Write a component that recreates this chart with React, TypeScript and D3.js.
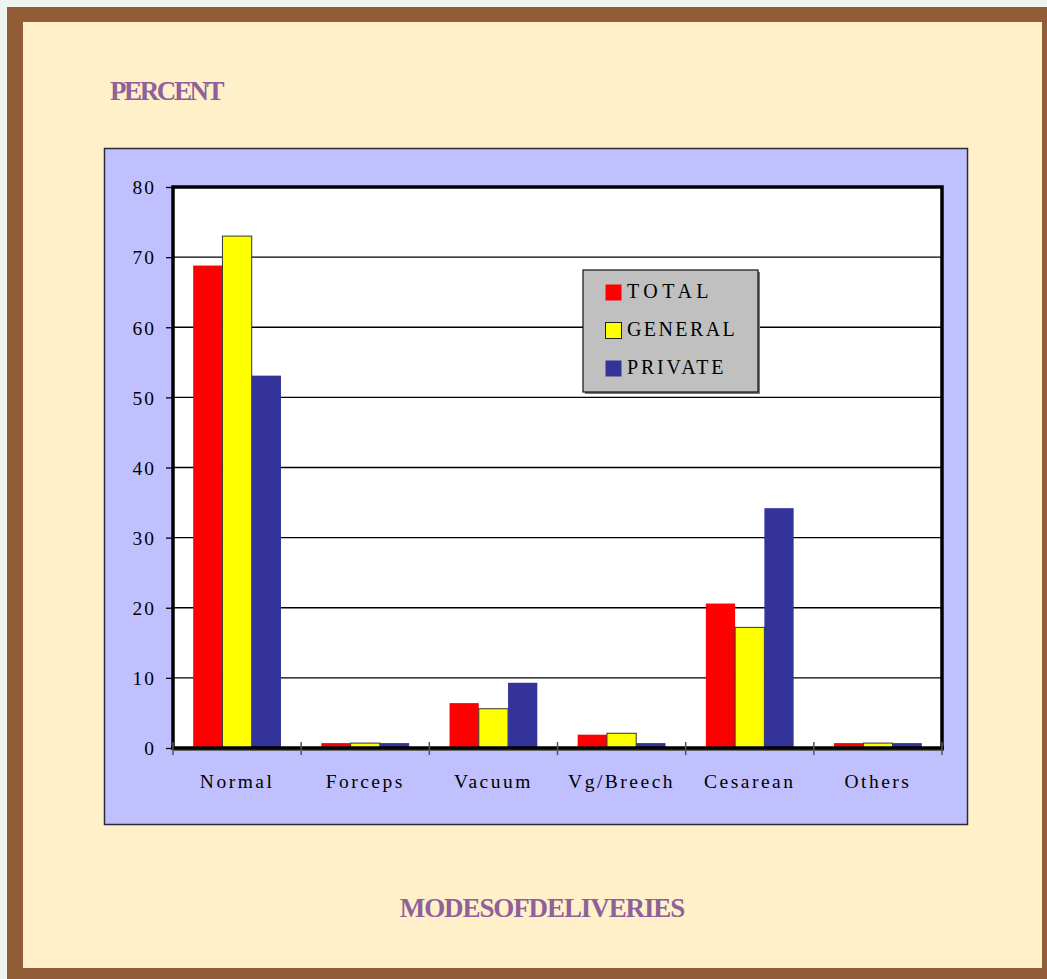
import React, { useEffect, useRef } from 'react'
import * as d3 from 'd3'

const categories = ['Normal', 'Forceps', 'Vacuum', 'Vg/Breech', 'Cesarean', 'Others']
const seriesNames = ['TOTAL', 'GENERAL', 'PRIVATE']
const totalValues = [68.8, 0.7, 6.4, 1.9, 20.6, 0.7]
const generalValues = [73.0, 0.7, 5.6, 2.1, 17.2, 0.7]
const privateValues = [53.1, 0.7, 9.3, 0.7, 34.2, 0.7]
const yTicks = [0, 10, 20, 30, 40, 50, 60, 70, 80]
const seriesColors = ['#ff0000', '#ffff00', '#333399']

export default function App() {
  const ref = useRef<SVGSVGElement>(null)

  useEffect(() => {
    const svg = d3.select(ref.current)
    svg.selectAll('*').remove()
    const W = 1047, H = 979
    const serif = 'Liberation Serif, serif'

    // page + frame
    svg.append('rect').attr('width', W).attr('height', H).attr('fill', '#eef5ef')
    svg.append('rect').attr('x', 7).attr('y', 7).attr('width', W).attr('height', H).attr('fill', '#925c39')
    svg.append('rect').attr('x', 23).attr('y', 22).attr('width', 1019).attr('height', 946).attr('fill', '#fff0c9')

    // chart area box
    svg.append('rect').attr('x', 104.5).attr('y', 148.5).attr('width', 863).attr('height', 676)
      .attr('fill', '#c0c0ff').attr('stroke', '#2a2a3a').attr('stroke-width', 1.5)

    const plot = { left: 173, right: 942, top: 187, bottom: 748 }
    const x = d3.scaleBand().domain(categories).range([plot.left, plot.right])
    const x1 = d3.scaleBand().domain(seriesNames).range([0, x.bandwidth()]).paddingOuter(0.69).paddingInner(0)
    const y = d3.scaleLinear().domain([0, 80]).range([plot.bottom, plot.top])

    svg.append('rect').attr('x', plot.left).attr('y', plot.top)
      .attr('width', plot.right - plot.left).attr('height', plot.bottom - plot.top).attr('fill', '#ffffff')

    // gridlines
    svg.append('g').selectAll('line').data(yTicks.filter(t => t > 0 && t < 80)).join('line')
      .attr('x1', plot.left).attr('x2', plot.right)
      .attr('y1', d => y(d)).attr('y2', d => y(d))
      .attr('stroke', '#000').attr('stroke-width', 1.3)

    // bars
    const series = [totalValues, generalValues, privateValues]
    seriesNames.forEach((name, si) => {
      svg.append('g').selectAll('rect').data(series[si]).join('rect')
        .attr('x', (_, i) => (x(categories[i]) as number) + (x1(name) as number))
        .attr('y', d => y(d))
        .attr('width', x1.bandwidth())
        .attr('height', d => plot.bottom - y(d))
        .attr('fill', seriesColors[si])
        .attr('stroke', si === 1 ? '#333' : 'none')
        .attr('stroke-width', 1)
    })

    // plot frame
    svg.append('path')
      .attr('d', `M${plot.left},${plot.bottom}V${plot.top}H${plot.right}V${plot.bottom}`)
      .attr('fill', 'none').attr('stroke', '#000').attr('stroke-width', 3.5)
    svg.append('line').attr('x1', plot.left).attr('x2', plot.right + 2)
      .attr('y1', plot.bottom + 1.5).attr('y2', plot.bottom + 1.5)
      .attr('stroke', '#666').attr('stroke-width', 3)
    svg.append('line').attr('x1', plot.left - 2).attr('x2', plot.right + 2)
      .attr('y1', plot.bottom).attr('y2', plot.bottom)
      .attr('stroke', '#000').attr('stroke-width', 3.5)

    // y axis
    const yAxis = svg.append('g').attr('transform', `translate(${plot.left},0)`)
      .call(d3.axisLeft(y).tickValues(yTicks).tickSize(7).tickPadding(10).tickFormat(d3.format('d')))
    yAxis.select('.domain').remove()
    yAxis.selectAll('line').attr('stroke', '#000').attr('stroke-width', 1.3)
    yAxis.selectAll('text').attr('font-family', serif).attr('font-size', 19.5)
      .attr('letter-spacing', 2).attr('fill', '#000').attr('dy', '0.35em')

    // x axis
    const xAxis = svg.append('g').attr('transform', `translate(0,${plot.bottom})`)
      .call(d3.axisBottom(x).tickSize(0).tickPadding(26))
    xAxis.select('.domain').remove()
    xAxis.selectAll('text').attr('font-family', serif).attr('font-size', 19.5)
      .attr('letter-spacing', 2.5).attr('fill', '#000')
    const edges = categories.map(c => x(c) as number).concat([plot.right])
    svg.append('g').selectAll('line').data(edges).join('line')
      .attr('x1', d => d).attr('x2', d => d)
      .attr('y1', plot.bottom - 6).attr('y2', plot.bottom + 7)
      .attr('stroke', '#555').attr('stroke-width', 1.5)

    // legend
    const lg = svg.append('g').attr('transform', 'translate(583,270)')
    lg.append('rect').attr('x', 2).attr('y', 2).attr('width', 175).attr('height', 122).attr('fill', '#777')
    lg.append('rect').attr('width', 175).attr('height', 122).attr('fill', '#c0c0c0')
      .attr('stroke', '#111').attr('stroke-width', 1.2)
    const legendSpacing = [4.5, 2.4, 2.8]
    seriesNames.forEach((name, i) => {
      const row = lg.append('g').attr('transform', `translate(0,${14 + i * 38})`)
      row.append('rect').attr('x', 22.5).attr('y', 0.5).attr('width', 16).attr('height', 16)
        .attr('fill', seriesColors[i]).attr('stroke', i === 1 ? '#222' : 'none')
      row.append('text').attr('x', 44).attr('y', 14).text(name)
        .attr('font-family', serif).attr('font-size', 20).attr('letter-spacing', legendSpacing[i]).attr('fill', '#000')
    })

    // titles
    svg.append('text').attr('x', 110).attr('y', 100).text('PERCENT')
      .attr('font-family', serif).attr('font-weight', 'bold').attr('font-size', 27)
      .attr('letter-spacing', -2.4).attr('fill', '#8e619b')
    svg.append('text').attr('x', 542).attr('y', 917).attr('text-anchor', 'middle').text('MODESOFDELIVERIES')
      .attr('font-family', serif).attr('font-weight', 'bold').attr('font-size', 27)
      .attr('letter-spacing', -1.1).attr('fill', '#8e619b')
  }, [])

  return (
    <svg ref={ref} width={1047} height={979}
      style={{ position: 'absolute', left: 0, top: 0, display: 'block' }} />
  )
}
